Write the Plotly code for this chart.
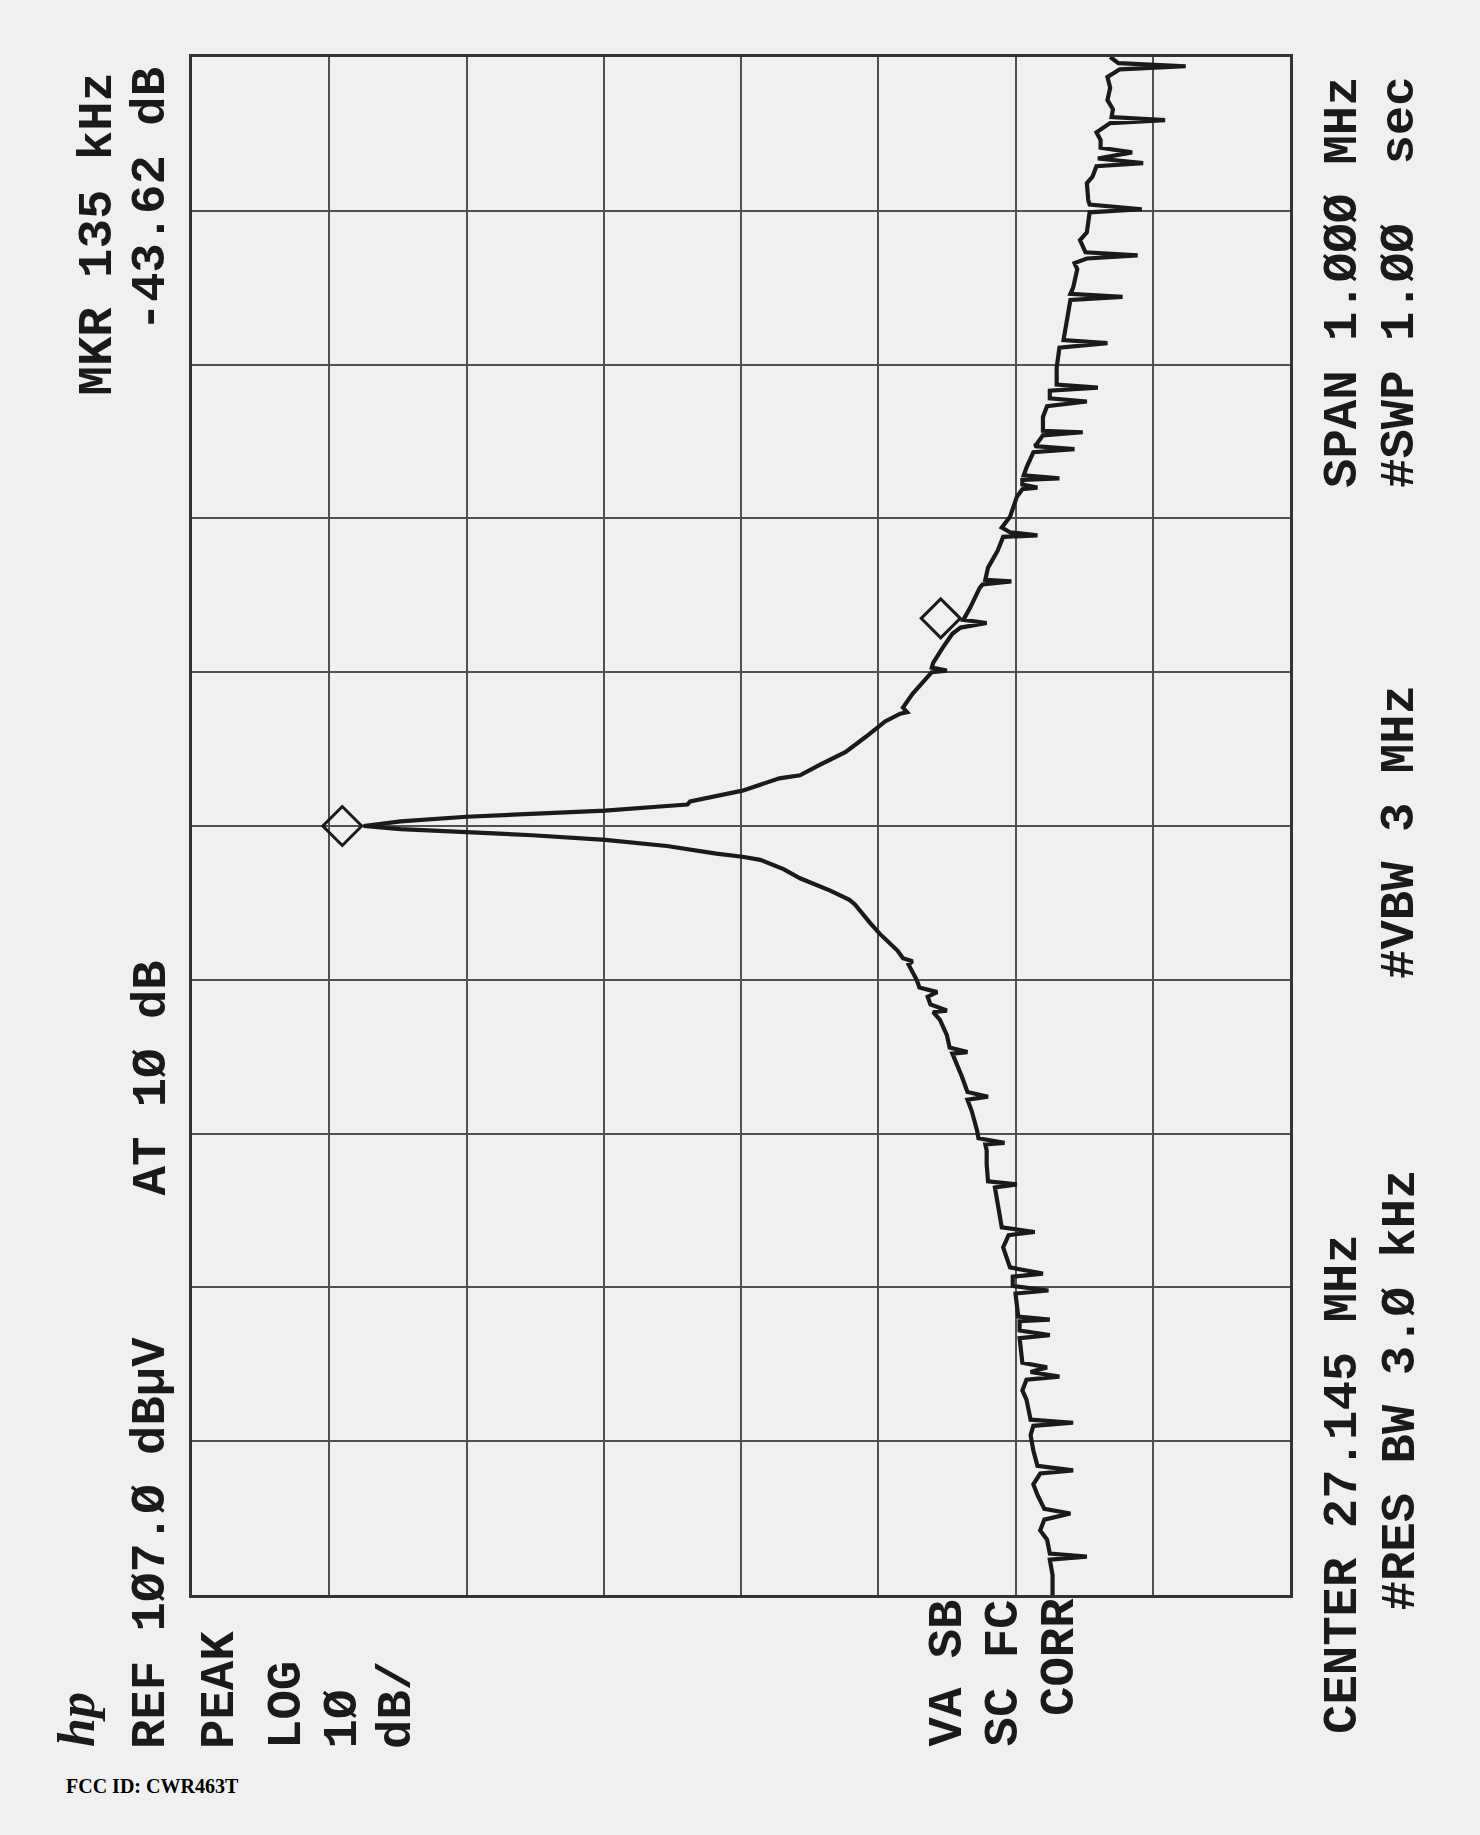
import plotly.graph_objects as go

# analyzer settings
center_mhz = 27.145
span_mhz = 1.0
ref_dbuv = 107.0
db_per_div = 10

# trace: offset from centre (kHz) and level (dBuV)
freq_khz = [
    -500, -487, -477, -475, -473, -464, -458, -451, -447, -444,
    -435, -428, -421, -419, -416, -406, -396, -390, -388, -386,
    -373, -367, -360, -358, -355, -352, -349, -337, -333, -331,
    -328, -322, -321, -319, -311, -304, -302, -299, -293, -291,
    -287, -278, -274, -266, -264, -261, -250, -243, -235, -233,
    -231, -220, -211, -207, -206, -203, -198, -185, -178, -176,
    -173, -163, -154, -148, -147, -144, -136, -126, -121, -120,
    -116, -111, -108, -105, -100, -90, -88, -86, -81, -70,
    -63, -51, -48, -42, -34, -28, -22, -20, -18, -13,
    -9, -6, -4, -2, 0,
    3, 6, 8, 10, 13, 14, 16, 23, 31, 33,
    40, 48, 58, 68, 73, 74, 77, 86, 100, 101,
    103, 106, 116, 125, 129, 132, 134, 142, 155, 157,
    159, 160, 168, 179, 188, 189, 191, 194, 201, 214,
    219, 220, 222, 225, 226, 228, 233, 243, 245, 247,
    249, 254, 256, 257, 266, 273, 276, 278, 283, 285,
    287, 298, 311, 314, 316, 321, 331, 342, 344, 346,
    350, 362, 366, 369, 371, 373, 381, 386, 399, 401,
    404, 407, 418, 422, 429, 431, 434, 438, 441, 446,
    451, 457, 459, 461, 466, 472, 480, 487, 492, 494,
    496, 500,
]
level_dbuv = [
    44.3, 44.3, 44.5, 41.8, 44.5, 44.7, 45.2, 44.9, 43.0, 44.9,
    45.4, 45.7, 45.2, 42.8, 45.4, 45.7, 45.9, 45.7, 42.8, 45.9,
    46.2, 46.5, 46.2, 43.8, 45.9, 44.7, 46.5, 46.7, 46.7, 44.5,
    46.7, 46.7, 44.5, 46.8, 46.9, 47.0, 44.6, 47.2, 47.2, 45.0,
    47.4, 47.8, 47.9, 47.5, 45.6, 48.0, 48.2, 48.3, 48.5, 46.9,
    49.0, 49.1, 49.1, 49.2, 47.8, 49.7, 49.8, 50.2, 50.5, 49.0,
    50.5, 50.9, 51.3, 51.6, 50.5, 51.8, 52.0, 52.5, 53.0, 52.0,
    53.2, 53.4, 52.7, 54.0, 54.2, 54.8, 54.5, 55.2, 55.6, 56.9,
    57.6, 58.7, 59.1, 60.5, 62.7, 63.9, 65.6, 66.9, 68.8, 72.4,
    76.9, 82.2, 87.0, 91.8, 94.5,
    91.8, 87.0, 82.2, 76.9, 72.4, 70.9, 70.7, 66.9, 64.2, 62.7,
    61.2, 59.4, 57.9, 56.5, 55.4, 54.9, 55.2, 54.5, 53.1, 52.0,
    53.1, 53.0, 52.3, 51.6, 51.0, 49.1, 50.8, 50.3, 49.6, 49.4,
    47.3, 49.2, 49.0, 48.3, 47.9, 45.4, 47.4, 48.0, 47.4, 46.9,
    46.5, 45.4, 46.5, 46.5, 43.8, 46.4, 46.2, 45.7, 42.7, 45.6,
    45.4, 45.0, 42.1, 45.0, 45.0, 44.7, 41.8, 44.5, 44.5, 41.0,
    44.0, 44.0, 43.8, 40.3, 43.5, 43.4, 43.2, 43.0, 39.2, 43.0,
    42.8, 42.5, 42.7, 41.8, 38.1, 41.9, 42.3, 41.8, 41.6, 37.8,
    41.6, 41.7, 41.8, 41.4, 41.1, 37.7, 41.0, 38.5, 40.8, 40.8,
    41.1, 40.1, 36.1, 40.0, 39.9, 40.3, 40.1, 40.3, 39.4, 34.6,
    39.5, 40.1,
]

# peak marker and delta marker (135 kHz, -43.62 dB)
marker_khz = [0, 135]
marker_dbuv = [94.5, 50.9]

readout_text = [
    "MKR 135 kHz", "-43.62 dB",
    "REF 1Ø7.Ø dBµV", "AT 1Ø dB",
    "PEAK", "LOG", "1Ø", "dB/",
    "VA SB", "SC FC", "CORR",
    "CENTER 27.145 MHz", "#RES BW 3.Ø kHz", "#VBW 3 MHz",
    "SPAN 1.ØØØ MHz", "#SWP 1.ØØ\u00a0 sec",
]

# ---- layout / style ----
W, H = 1480, 1835
L, R, T, B = 192, 190, 57, 240
ink = "#1a1a1a"
paper = "#f0f0f0"

def px(x):
    return (x - L) / (W - L - R)

def py(y):
    return (H - B - y) / (H - T - B)

# column centre and start (bottom end) of every readout, in page pixels
readout_pos = [
    (97, 397), (151, 333),
    (151, 1750), (151, 1197),
    (220, 1750), (287, 1750), (342, 1750), (397, 1750),
    (948, 1748), (1004, 1748), (1060, 1717),
    (1343, 1735), (1400, 1612), (1400, 980),
    (1343, 489), (1400, 489),
]

freq_mhz = [center_mhz + f / 1000 for f in freq_khz]
mk_freq = [center_mhz + f / 1000 for f in marker_khz]
# the plotter draws the diamond beside the trace point
mk_shift = 1.55

fig = go.Figure()
fig.add_trace(go.Scatter(
    x=level_dbuv, y=freq_mhz, mode="lines",
    line=dict(color=ink, width=4.2), hoverinfo="skip"))
fig.add_trace(go.Scatter(
    x=[v + mk_shift for v in marker_dbuv], y=mk_freq, mode="markers",
    marker=dict(symbol="diamond-open", size=30, color=ink,
                line=dict(color=ink, width=3)),
    hoverinfo="skip"))

anns = []
for txt, (cx, sy) in zip(readout_text, readout_pos):
    anns.append(dict(
        text="<b>" + txt + "</b>", x=px(cx), y=py(sy),
        xref="paper", yref="paper",
        xanchor="center", yanchor="bottom", textangle=-90,
        showarrow=False, borderpad=0,
        font=dict(family="Liberation Mono", size=49, color=ink)))
anns.append(dict(
    text="<b><i>hp</i></b>", x=px(76), y=py(1720), xref="paper", yref="paper",
    xanchor="center", yanchor="middle", textangle=-90, showarrow=False,
    font=dict(family="Liberation Serif", size=52, color=ink)))
anns.append(dict(
    text="<b>FCC ID: CWR463T</b>", x=px(64), y=py(1786),
    xref="paper", yref="paper", xanchor="left", yanchor="middle",
    showarrow=False,
    font=dict(family="Liberation Serif", size=20, color="#000")))

axis_common = dict(showgrid=True, gridcolor="#505050", gridwidth=2,
                   zeroline=False, showticklabels=False, ticks="",
                   showline=True, mirror=True, linecolor="#333333",
                   linewidth=3)
fig.update_layout(
    width=W, height=H,
    margin=dict(l=L, r=R, t=T, b=B),
    paper_bgcolor=paper, plot_bgcolor=paper,
    showlegend=False,
    xaxis=dict(range=[ref_dbuv, ref_dbuv - 8 * db_per_div],
               tick0=ref_dbuv, dtick=db_per_div, **axis_common),
    yaxis=dict(range=[center_mhz - span_mhz / 2, center_mhz + span_mhz / 2],
               tick0=center_mhz - span_mhz / 2, dtick=span_mhz / 10,
               **axis_common),
    annotations=anns,
)

fig.write_html("out.html",
               config={"displayModeBar": False},
               post_script="document.body.style.margin='0';"
                           "document.body.style.background='#f0f0f0';")
